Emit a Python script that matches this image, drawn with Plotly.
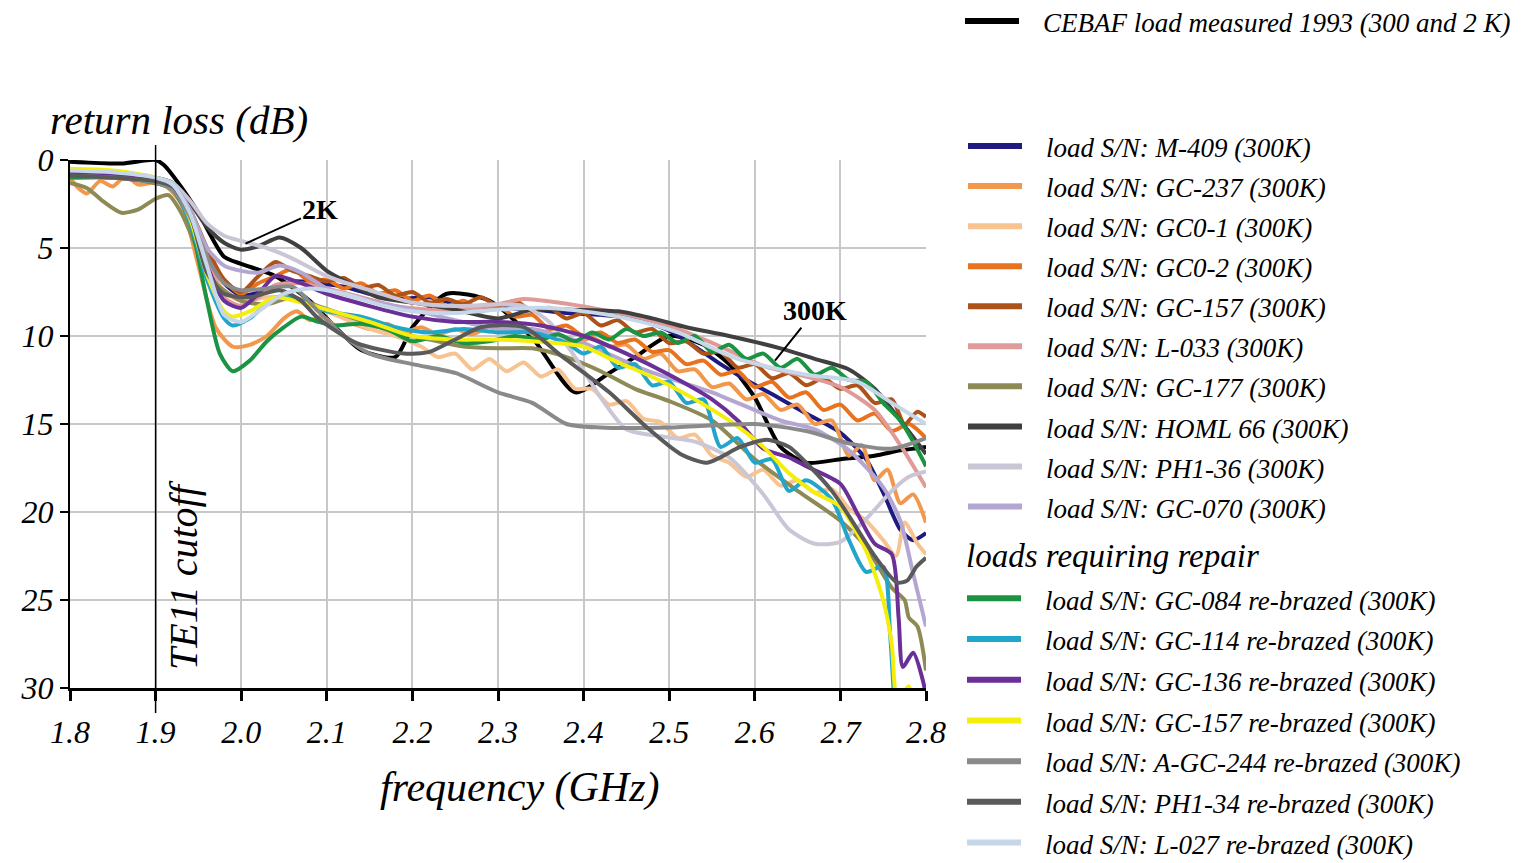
import plotly.graph_objects as go

# ---------------- data (frequency in GHz, return loss in dB) ----------------
F_CEBAF = [1.80, 1.86, 1.90, 1.91, 1.925, 1.95, 1.98, 2.00, 2.04, 2.08, 2.11, 2.14, 2.18, 2.20, 2.24, 2.29,
           2.34, 2.39, 2.43, 2.46, 2.50, 2.54, 2.57, 2.60, 2.63, 2.66, 2.70, 2.74, 2.77, 2.80]
RL_CEBAF = [0.1, 0.2, 0.0, 0.3, 1.2, 3.0, 5.5, 5.9, 6.6, 8.0, 9.5, 10.8, 11.2, 9.5, 7.6, 8.0,
            10.1, 13.2, 12.1, 11.2, 10.0, 10.5, 11.6, 13.5, 16.3, 17.2, 17.0, 16.8, 16.5, 16.3]

F_M409 = [1.80, 1.83, 1.86, 1.90, 1.92, 1.94, 1.96, 1.98, 2.00, 2.03, 2.06, 2.09, 2.12, 2.15, 2.18, 2.22, 2.26,
          2.30, 2.34, 2.38, 2.42, 2.46, 2.50, 2.53, 2.56, 2.59, 2.62, 2.66, 2.70, 2.73, 2.75, 2.77, 2.785, 2.80]
RL_M409 = [0.7, 0.9, 1.0, 1.1, 1.5, 3.0, 5.2, 7.0, 7.7, 7.4, 6.9, 7.0, 7.2, 7.6, 7.9, 7.8, 8.3,
           8.4, 8.5, 8.7, 8.8, 9.0, 9.7, 10.6, 11.6, 12.5, 13.3, 14.4, 15.5, 17.0, 18.9, 21.0, 21.6, 21.2]

F_GC237 = [1.80, 1.81, 1.82, 1.835, 1.85, 1.865, 1.88, 1.895, 1.91, 1.93, 1.95, 1.97, 1.99, 2.01, 2.03, 2.05,
           2.065, 2.08, 2.095, 2.11, 2.13, 2.15, 2.17, 2.19, 2.21, 2.23, 2.25, 2.27, 2.29, 2.31, 2.33, 2.35,
           2.37, 2.39, 2.41, 2.43, 2.45, 2.47, 2.49, 2.51, 2.53, 2.55, 2.57, 2.59, 2.61, 2.63, 2.65, 2.67,
           2.69, 2.71, 2.725, 2.74, 2.755, 2.77, 2.785, 2.80]
RL_GC237 = [1.0, 1.6, 1.9, 1.2, 1.5, 0.9, 1.4, 1.3, 1.4, 2.5, 6.0, 9.5, 10.6, 10.5, 10.0, 9.0,
            8.6, 9.1, 8.9, 9.4, 9.3, 9.6, 9.3, 9.8, 9.5, 9.9, 9.6, 9.9, 9.5, 9.8, 9.6, 10.2,
            9.9, 10.4, 10.1, 10.6, 10.5, 11.3, 11.0, 12.0, 11.9, 12.9, 12.7, 13.6, 13.3, 14.2, 13.9, 15.0,
            14.8, 16.8, 16.2, 18.2, 17.6, 19.5, 19.0, 20.6]

F_GC01 = [1.80, 1.85, 1.90, 1.92, 1.94, 1.96, 1.98, 2.00, 2.03, 2.06, 2.09, 2.12, 2.15, 2.18, 2.21, 2.23,
          2.25, 2.27, 2.29, 2.31, 2.33, 2.35, 2.37, 2.39, 2.41, 2.43, 2.45, 2.47, 2.49, 2.51, 2.53, 2.55,
          2.57, 2.59, 2.61, 2.63, 2.65, 2.67, 2.69, 2.71, 2.73, 2.75, 2.765, 2.775, 2.79, 2.80]
RL_GC01 = [0.8, 0.9, 1.2, 1.6, 3.2, 5.5, 7.5, 8.0, 7.8, 7.8, 8.4, 9.0, 9.6, 10.0, 10.6, 11.2,
           11.0, 11.9, 11.3, 12.0, 11.5, 12.3, 11.9, 13.0, 13.0, 13.9, 13.7, 14.7, 14.9, 15.8, 15.6, 16.8,
           17.2, 18.0, 17.6, 18.5, 18.2, 18.9, 18.7, 19.8, 20.5, 21.6, 22.5, 20.6, 21.8, 22.4]

F_GC02 = [1.80, 1.85, 1.90, 1.92, 1.94, 1.96, 1.98, 2.00, 2.02, 2.04, 2.06, 2.08, 2.10, 2.12, 2.14, 2.16,
          2.18, 2.20, 2.22, 2.24, 2.26, 2.28, 2.30, 2.32, 2.34, 2.36, 2.38, 2.40, 2.42, 2.44, 2.46, 2.48,
          2.50, 2.52, 2.54, 2.56, 2.58, 2.60, 2.62, 2.64, 2.66, 2.68, 2.70, 2.72, 2.74, 2.76, 2.78, 2.80]
RL_GC02 = [1.0, 1.0, 1.3, 1.6, 3.0, 5.2, 6.8, 7.6, 7.0, 6.6, 6.2, 6.9, 6.8, 7.3, 7.0, 7.6,
           7.4, 8.0, 7.7, 8.3, 8.0, 8.6, 8.3, 8.9, 8.8, 9.6, 9.4, 10.0, 9.8, 10.4, 10.2, 10.9,
           10.8, 11.6, 11.4, 12.2, 12.0, 12.9, 12.6, 13.5, 13.2, 14.2, 13.9, 14.8, 14.4, 15.4, 15.0, 15.8]

F_GC157 = [1.80, 1.85, 1.90, 1.92, 1.94, 1.96, 1.98, 2.00, 2.02, 2.04, 2.06, 2.08, 2.10, 2.12, 2.14, 2.16,
           2.18, 2.20, 2.22, 2.24, 2.26, 2.28, 2.30, 2.32, 2.34, 2.36, 2.38, 2.40, 2.42, 2.44, 2.46, 2.48,
           2.50, 2.52, 2.54, 2.56, 2.58, 2.60, 2.62, 2.64, 2.66, 2.68, 2.70, 2.72, 2.74, 2.76, 2.775, 2.79, 2.80]
RL_GC157 = [0.9, 1.0, 1.2, 1.5, 2.8, 5.0, 6.8, 7.5, 6.6, 5.8, 6.3, 6.6, 6.9, 6.7, 7.3, 7.1,
            7.7, 7.5, 8.1, 7.9, 8.2, 7.8, 8.3, 8.0, 8.6, 8.4, 9.0, 8.7, 9.4, 9.1, 9.8, 9.6,
            10.4, 10.3, 11.0, 10.9, 11.8, 11.6, 12.4, 12.1, 12.8, 12.4, 13.0, 12.8, 13.8, 13.6, 15.0, 14.3, 14.6]

F_L033 = [1.80, 1.85, 1.90, 1.92, 1.94, 1.96, 1.98, 2.00, 2.02, 2.04, 2.07, 2.10, 2.14, 2.18, 2.22, 2.26,
          2.30, 2.33, 2.37, 2.42, 2.47, 2.51, 2.56, 2.61, 2.66, 2.70, 2.74, 2.77, 2.80]
RL_L033 = [0.9, 1.0, 1.2, 1.5, 3.0, 5.5, 7.8, 8.3, 7.8, 7.1, 7.0, 7.3, 7.8, 8.3, 8.5, 8.5,
           8.2, 7.9, 8.1, 8.5, 9.0, 9.6, 10.6, 11.7, 12.3, 12.9, 14.2, 16.2, 18.6]

F_GC177 = [1.80, 1.82, 1.84, 1.86, 1.88, 1.90, 1.915, 1.93, 1.95, 1.97, 2.00, 2.03, 2.06, 2.09, 2.12, 2.15,
           2.18, 2.22, 2.26, 2.30, 2.34, 2.38, 2.42, 2.46, 2.50, 2.55, 2.60, 2.65, 2.70, 2.73, 2.76, 2.775,
           2.78, 2.79, 2.80]
RL_GC177 = [1.3, 1.6, 2.4, 3.0, 2.8, 2.2, 2.0, 3.0, 5.2, 7.0, 8.0, 8.2, 7.8, 8.3, 8.8, 9.3,
            9.8, 10.2, 10.6, 10.7, 10.7, 11.2, 12.0, 13.0, 13.7, 14.8, 17.0, 18.8, 20.5, 22.0, 24.3, 25.0,
            26.0, 26.5, 29.0]

F_HOML66 = [1.80, 1.85, 1.90, 1.92, 1.94, 1.96, 1.98, 2.00, 2.02, 2.045, 2.07, 2.10, 2.13, 2.16, 2.20, 2.25,
            2.30, 2.34, 2.38, 2.44, 2.48, 2.52, 2.57, 2.63, 2.67, 2.71, 2.74, 2.77, 2.80]
RL_HOML66 = [0.8, 0.9, 1.0, 1.3, 2.4, 3.8, 4.7, 5.1, 4.9, 4.4, 5.0, 6.3, 7.1, 7.8, 8.1, 8.5,
             9.0, 8.5, 8.5, 8.6, 9.0, 9.5, 10.0, 10.7, 11.3, 11.9, 13.0, 14.8, 16.7]

F_PH136 = [1.80, 1.85, 1.90, 1.92, 1.94, 1.96, 1.98, 2.00, 2.03, 2.06, 2.10, 2.15, 2.20, 2.25, 2.30, 2.33,
           2.36, 2.39, 2.42, 2.45, 2.49, 2.53, 2.57, 2.61, 2.64, 2.67, 2.70, 2.73, 2.76, 2.78, 2.80]
RL_PH136 = [0.8, 0.9, 1.0, 1.3, 2.3, 3.6, 4.3, 4.6, 5.0, 5.6, 6.6, 7.4, 8.1, 8.3, 8.2, 8.3,
            9.2, 11.2, 13.5, 15.3, 15.7, 16.0, 16.9, 19.0, 21.0, 21.8, 21.7, 20.4, 18.8, 18.0, 17.7]

F_GC070 = [1.80, 1.85, 1.90, 1.92, 1.94, 1.96, 1.98, 2.00, 2.02, 2.045, 2.07, 2.10, 2.15, 2.20, 2.25, 2.30,
           2.34, 2.40, 2.47, 2.55, 2.63, 2.67, 2.71, 2.75, 2.77, 2.785, 2.80]
RL_GC070 = [0.9, 1.0, 1.1, 1.4, 2.8, 5.0, 6.0, 6.3, 6.4, 6.0, 6.4, 7.3, 8.0, 8.5, 9.1, 9.6,
            9.6, 10.4, 11.9, 13.2, 14.8, 15.3, 16.5, 18.6, 20.5, 23.5, 26.5]

F_GC084 = [1.80, 1.85, 1.90, 1.92, 1.94, 1.96, 1.975, 1.99, 2.01, 2.03, 2.05, 2.07, 2.09, 2.11, 2.14, 2.17,
           2.20, 2.23, 2.26, 2.29, 2.32, 2.35, 2.37, 2.39, 2.41, 2.43, 2.45, 2.47, 2.49, 2.51, 2.53, 2.55,
           2.57, 2.59, 2.61, 2.63, 2.65, 2.67, 2.69, 2.71, 2.73, 2.75, 2.77, 2.785, 2.80]
RL_GC084 = [1.0, 1.0, 1.3, 1.7, 3.5, 8.0, 11.0, 12.0, 11.4, 10.3, 9.5, 8.9, 9.2, 9.4, 9.3, 9.6,
            10.3, 10.0, 10.4, 10.3, 10.0, 10.2, 9.9, 10.3, 9.8, 10.2, 9.6, 10.0, 9.8, 10.4, 10.0, 10.9,
            10.5, 11.3, 11.0, 11.8, 11.3, 12.2, 11.8, 12.5, 12.6, 13.8, 14.8, 16.0, 17.4]

F_GC114 = [1.80, 1.85, 1.90, 1.92, 1.94, 1.96, 1.98, 1.99, 2.01, 2.04, 2.07, 2.10, 2.14, 2.18, 2.22, 2.26,
           2.30, 2.34, 2.38, 2.40, 2.42, 2.44, 2.46, 2.48, 2.50, 2.52, 2.54, 2.56, 2.58, 2.60, 2.62, 2.64,
           2.66, 2.69, 2.71, 2.73, 2.75, 2.758, 2.763]
RL_GC114 = [0.8, 0.9, 1.2, 1.6, 3.5, 6.8, 9.0, 9.4, 9.0, 7.8, 8.0, 8.6, 8.9, 9.5, 9.8, 9.6,
            9.8, 9.8, 10.4, 11.0, 10.6, 11.8, 11.6, 12.8, 12.6, 13.8, 13.6, 16.3, 15.8, 17.2, 17.0, 18.8,
            18.2, 19.3, 21.6, 23.4, 23.1, 26.9, 31.0]

F_GC136 = [1.80, 1.85, 1.90, 1.92, 1.94, 1.96, 1.98, 2.00, 2.02, 2.04, 2.07, 2.10, 2.15, 2.20, 2.25, 2.30,
           2.35, 2.40, 2.45, 2.50, 2.55, 2.58, 2.61, 2.64, 2.66, 2.70, 2.72, 2.74, 2.76, 2.768, 2.773, 2.785,
           2.797, 2.80]
RL_GC136 = [0.7, 0.9, 1.2, 1.5, 3.2, 6.0, 8.0, 8.4, 7.6, 6.6, 7.0, 7.6, 8.3, 8.9, 9.2, 9.2,
            9.4, 10.0, 11.0, 12.2, 13.6, 14.8, 16.4, 16.9, 17.4, 18.4, 20.1, 21.8, 22.4, 26.0, 28.8, 28.0,
            29.7, 30.5]

F_GC157RB = [1.80, 1.85, 1.90, 1.92, 1.94, 1.96, 1.98, 1.99, 2.01, 2.04, 2.07, 2.10, 2.15, 2.20, 2.25, 2.29,
             2.34, 2.40, 2.44, 2.47, 2.50, 2.53, 2.57, 2.61, 2.64, 2.67, 2.70, 2.73, 2.75, 2.76, 2.766, 2.773,
             2.78, 2.785]
RL_GC157RB = [0.5, 0.6, 1.0, 1.5, 3.3, 6.5, 8.6, 8.9, 8.6, 7.8, 8.1, 8.5, 9.2, 10.0, 10.2, 10.2,
              10.3, 10.6, 11.5, 12.1, 12.8, 13.6, 14.8, 16.3, 17.8, 18.9, 19.7, 22.2, 25.0, 27.5, 30.5, 30.3,
              29.9, 31.0]

F_AGC244 = [1.80, 1.85, 1.90, 1.92, 1.94, 1.96, 1.98, 2.00, 2.03, 2.06, 2.09, 2.12, 2.15, 2.20, 2.25, 2.30,
            2.34, 2.38, 2.42, 2.50, 2.60, 2.66, 2.71, 2.76, 2.80]
RL_AGC244 = [0.9, 1.0, 1.3, 1.7, 3.2, 5.5, 7.0, 7.4, 7.3, 7.2, 8.6, 10.0, 11.0, 11.6, 12.1, 13.2,
             13.8, 15.0, 15.2, 15.2, 15.0, 15.4, 16.1, 16.4, 15.8]

F_PH134 = [1.80, 1.85, 1.90, 1.92, 1.94, 1.96, 1.98, 2.01, 2.045, 2.07, 2.09, 2.135, 2.19, 2.22, 2.25, 2.28,
           2.33, 2.376, 2.43, 2.474, 2.513, 2.544, 2.583, 2.614, 2.64, 2.664, 2.69, 2.711, 2.74, 2.766, 2.778,
           2.789, 2.80]
RL_PH134 = [0.9, 1.0, 1.2, 1.5, 3.0, 6.4, 7.6, 7.8, 7.4, 8.0, 9.0, 10.4, 11.0, 10.9, 10.2, 9.5,
            9.5, 11.2, 13.2, 15.2, 16.7, 17.2, 16.3, 15.9, 16.3, 17.4, 18.8, 20.3, 22.5, 24.0, 23.9,
            23.1, 22.6]

F_L027 = [1.80, 1.85, 1.90, 1.92, 1.94, 1.96, 1.98, 2.00, 2.02, 2.05, 2.08, 2.12, 2.16, 2.20, 2.25, 2.30,
          2.35, 2.40, 2.45, 2.51, 2.58, 2.66, 2.72, 2.76, 2.80]
RL_L027 = [0.6, 0.7, 1.0, 1.4, 3.0, 6.0, 8.8, 9.2, 8.6, 7.6, 7.3, 7.6, 8.2, 8.6, 8.7, 8.5,
           8.4, 8.6, 9.0, 9.8, 11.3, 12.2, 12.6, 13.8, 15.0]

X_TICKS = [1.8, 1.9, 2.0, 2.1, 2.2, 2.3, 2.4, 2.5, 2.6, 2.7, 2.8]
Y_TICKS = [0, 5, 10, 15, 20, 25, 30]
CUTOFF_GHZ = 1.9

# ---------------- series definitions ----------------
MAIN = [
    ("load S/N: M-409 (300K)", F_M409, RL_M409, "#1e1a80"),
    ("load S/N: GC-237 (300K)", F_GC237, RL_GC237, "#f2984c"),
    ("load S/N: GC0-1 (300K)", F_GC01, RL_GC01, "#f6c391"),
    ("load S/N: GC0-2 (300K)", F_GC02, RL_GC02, "#e8721d"),
    ("load S/N: GC-157 (300K)", F_GC157, RL_GC157, "#ad531a"),
    ("load S/N: L-033 (300K)", F_L033, RL_L033, "#e09b99"),
    ("load S/N: GC-177 (300K)", F_GC177, RL_GC177, "#8e8a56"),
    ("load S/N: HOML 66 (300K)", F_HOML66, RL_HOML66, "#404040"),
    ("load S/N: PH1-36 (300K)", F_PH136, RL_PH136, "#cbc6d6"),
    ("load S/N: GC-070 (300K)", F_GC070, RL_GC070, "#b4a6d2"),
]
REPAIR = [
    ("load S/N: GC-084 re-brazed (300K)", F_GC084, RL_GC084, "#1a9442"),
    ("load S/N: GC-114 re-brazed (300K)", F_GC114, RL_GC114, "#22a5cb"),
    ("load S/N: GC-136 re-brazed (300K)", F_GC136, RL_GC136, "#6b2f98"),
    ("load S/N: GC-157 re-brazed (300K)", F_GC157RB, RL_GC157RB, "#f5ee0a"),
    ("load S/N: A-GC-244 re-brazed (300K)", F_AGC244, RL_AGC244, "#8a8a8a"),
    ("load S/N: PH1-34 re-brazed (300K)", F_PH134, RL_PH134, "#5a5a5a"),
    ("load S/N: L-027 re-brazed (300K)", F_L027, RL_L027, "#c6d7ea"),
]

FONT = "Liberation Serif"
LW = 4
LEG_LW = 6
PAD = "\u2002\u2009"
TXT = 27  # visible legend text size

fig = go.Figure()

def add_series(name, xs, ys, color, legend):
    fig.add_trace(go.Scatter(
        x=xs, y=ys, mode="lines", name=name, legendgroup=name, showlegend=False,
        line=dict(color=color, width=LW, shape="spline", smoothing=0.7), hoverinfo="skip"))
    fig.add_trace(go.Scatter(
        x=[None], y=[None], mode="lines", legendgroup=name, showlegend=True, legend=legend,
        name=f'<span style="font-size:{TXT}px">{PAD}{name}</span>',
        line=dict(color=color, width=LEG_LW)))

add_series("CEBAF load measured 1993 (300 and 2 K)", F_CEBAF, RL_CEBAF, "#000000", "legend")
for nm, xs, ys, c in MAIN:
    add_series(nm, xs, ys, c, "legend2")
for nm, xs, ys, c in REPAIR:
    add_series(nm, xs, ys, c, "legend3")

W, H = 1523, 863
ML, MR, MT, MB = 70, W - 926, 160, H - 688
PW, PH = W - ML - MR, H - MT - MB

def px_x(px):
    return (px - ML) / PW

def px_y(py):
    return (H - MB - py) / PH

tick_font = dict(family=FONT, size=32, color="black", style="italic")

def leg_font(size):
    return dict(family=FONT, size=size, color="black", style="italic")

fig.update_layout(
    width=W, height=H,
    margin=dict(l=ML, r=MR, t=MT, b=MB, autoexpand=False),
    paper_bgcolor="white", plot_bgcolor="white",
    font=dict(family=FONT, color="black"),
    showlegend=True,
    xaxis=dict(range=[1.8, 2.8], tickvals=X_TICKS, ticktext=[f"{v:.1f}" for v in X_TICKS],
               showgrid=True, gridcolor="#c8c8c8", gridwidth=2, zeroline=False,
               showline=True, linecolor="black", linewidth=2.5,
               ticks="outside", ticklen=10, tickwidth=2.5, tickcolor="black",
               tickfont=tick_font, ticklabelstandoff=4),
    yaxis=dict(range=[30, 0], tickvals=Y_TICKS,
               showgrid=True, gridcolor="#c8c8c8", gridwidth=2, zeroline=False,
               showline=True, linecolor="black", linewidth=2,
               ticks="outside", ticklen=8, tickwidth=2, tickcolor="black",
               tickfont=tick_font, ticklabelstandoff=0),
    legend=dict(x=px_x(960), y=px_y(-3), xanchor="left", yanchor="top",
                font=leg_font(TXT), itemwidth=54, bgcolor="rgba(0,0,0,0)", tracegroupgap=0),
    legend2=dict(x=px_x(963), y=px_y(121), xanchor="left", yanchor="top",
                 font=leg_font(28.5), itemwidth=54, bgcolor="rgba(0,0,0,0)", tracegroupgap=0),
    legend3=dict(x=px_x(962), y=px_y(573), xanchor="left", yanchor="top",
                 font=leg_font(29.0), itemwidth=54, bgcolor="rgba(0,0,0,0)", tracegroupgap=0),
)

# TE11 cutoff vertical line
fig.add_shape(type="line", xref="x", yref="paper", x0=CUTOFF_GHZ, x1=CUTOFF_GHZ,
              y0=px_y(713), y1=px_y(145), line=dict(color="black", width=1.5), layer="above")

fig.add_annotation(text="loads requiring repair", xref="paper", yref="paper", x=px_x(964), y=px_y(556),
                   xanchor="left", yanchor="middle", showarrow=False,
                   font=dict(family=FONT, size=33, color="black", style="italic"))
fig.add_annotation(text="return loss (dB)", xref="paper", yref="paper", x=px_x(48), y=px_y(120),
                   xanchor="left", yanchor="middle", showarrow=False,
                   font=dict(family=FONT, size=41, color="black", style="italic"))
fig.add_annotation(text="frequency (GHz)", xref="paper", yref="paper", x=px_x(520), y=px_y(787),
                   xanchor="center", yanchor="middle", showarrow=False,
                   font=dict(family=FONT, size=42, color="black", style="italic"))
fig.add_annotation(text="TE11 cutoff", xref="paper", yref="paper", x=px_x(183), y=px_y(575),
                   xanchor="center", yanchor="middle", showarrow=False, textangle=-90,
                   font=dict(family=FONT, size=40, color="black", style="italic"))
fig.add_annotation(text="2K", x=2.005, y=4.75, ax=75, ay=-34, showarrow=True, arrowhead=0,
                   arrowwidth=2, arrowcolor="black", standoff=0,
                   font=dict(family=FONT, size=28, color="black", weight="bold"))
fig.add_annotation(text="300K", x=2.6236, y=11.4, ax=40, ay=-50, showarrow=True, arrowhead=0,
                   arrowwidth=2, arrowcolor="black", standoff=0,
                   font=dict(family=FONT, size=28, color="black", weight="bold"))

fig.write_html("out.html")
